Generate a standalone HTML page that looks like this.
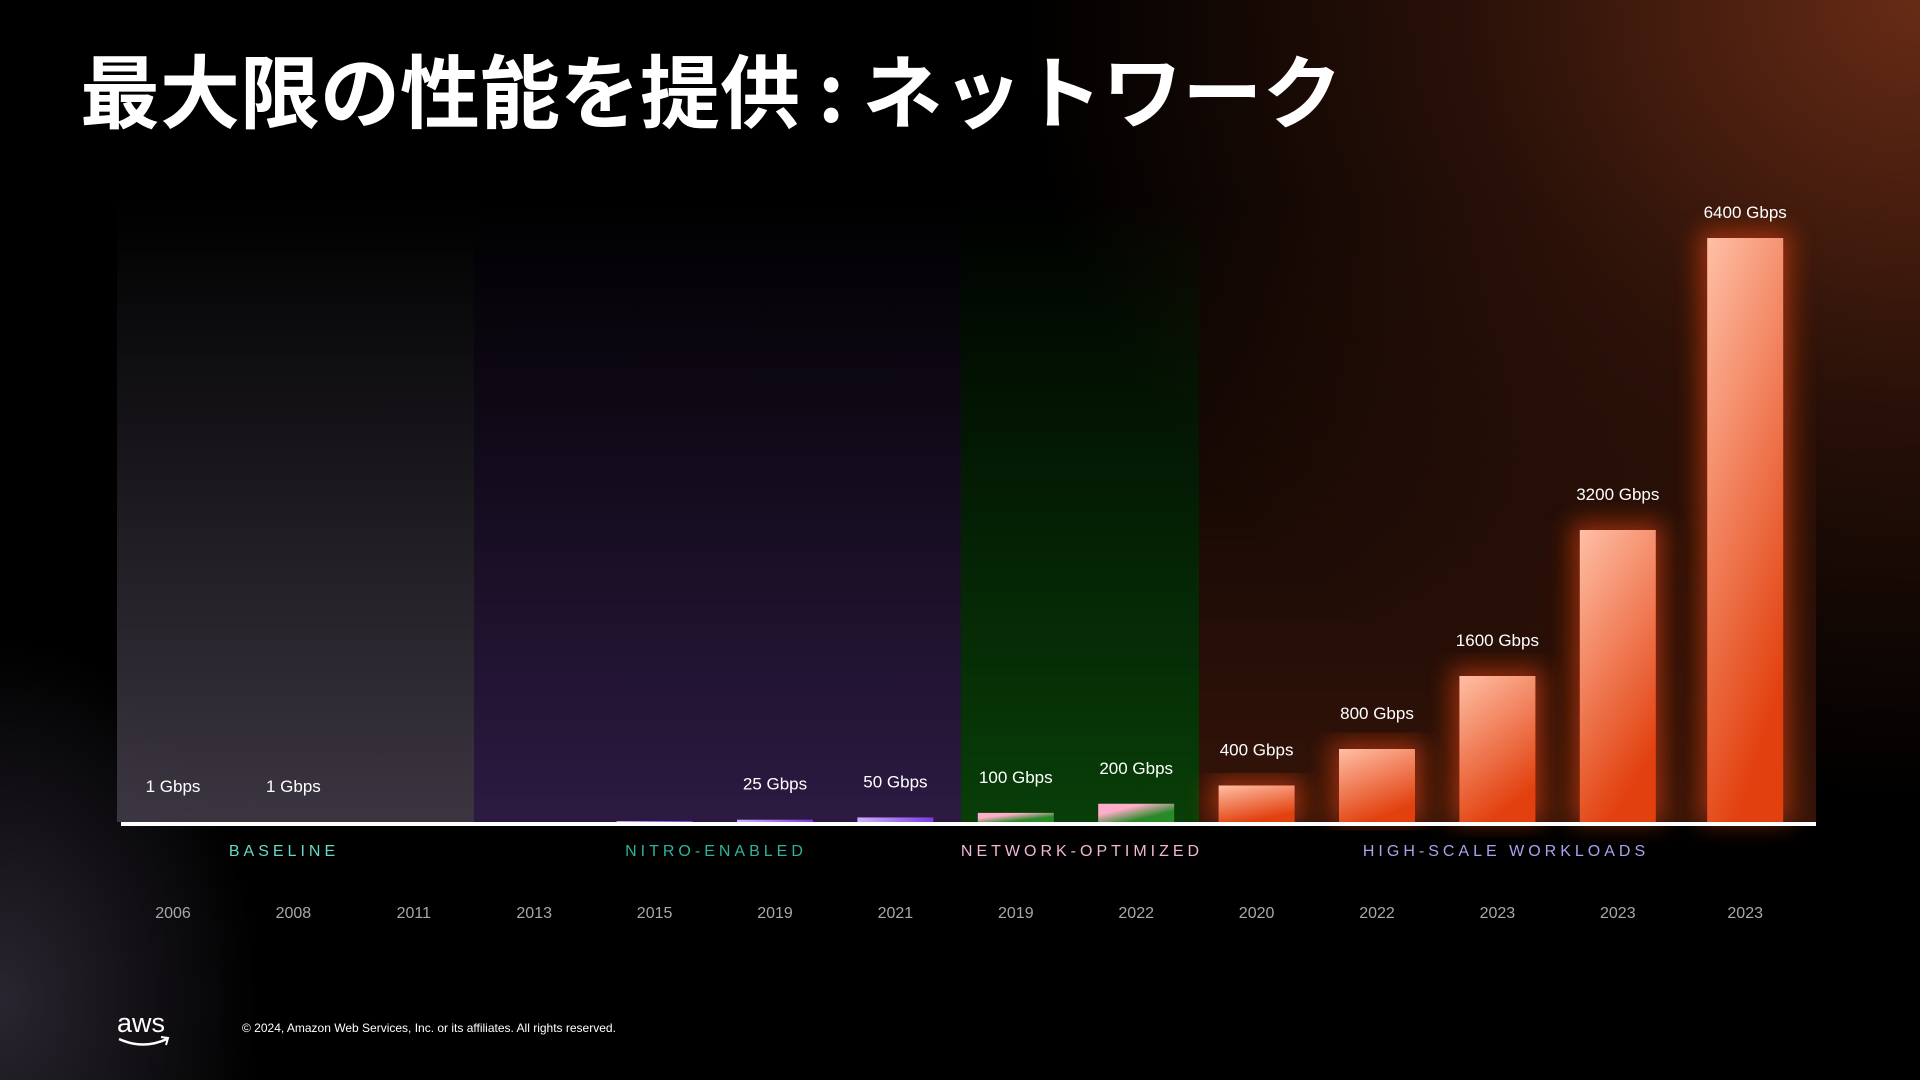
<!DOCTYPE html>
<html><head><meta charset="utf-8">
<style>
html,body{margin:0;padding:0;}
body{width:1920px;height:1080px;overflow:hidden;background:#000;position:relative;font-family:"Liberation Sans","Noto Sans CJK JP",sans-serif;}
.bg{position:absolute;inset:0;background:
radial-gradient(ellipse 900px 800px at 1920px 0px, rgba(115,48,24,0.9), rgba(75,30,14,0.55) 50%, rgba(0,0,0,0) 100%),
radial-gradient(ellipse 260px 360px at 0px 1000px, rgba(70,62,80,0.6), rgba(0,0,0,0) 100%);}
.title{position:absolute;left:80px;top:30px;font-size:80px;font-weight:bold;color:#fff;white-space:nowrap;letter-spacing:0px;font-family:"Noto Sans CJK JP","Liberation Sans",sans-serif;}
.panel{position:absolute;top:200px;height:622px;}
.cat{position:absolute;top:843px;font-size:16px;letter-spacing:4px;white-space:nowrap;transform:translateX(-50%);}
.copy{position:absolute;left:242px;top:1021px;font-size:12px;color:#fff;}
</style></head>
<body>
<div class="bg"></div>
<div class="title">最大限の性能を提供 : ネットワーク</div>
<div class="panel" style="left:117px;width:357px;background:linear-gradient(to bottom,rgba(0,0,0,0),rgba(62,56,68,0.95));"></div>
<div class="panel" style="left:474px;width:487px;background:linear-gradient(to bottom,rgba(0,0,0,0),rgba(44,26,66,1));"></div>
<div class="panel" style="left:961px;width:238px;background:linear-gradient(to bottom,rgba(0,0,0,0),rgba(8,62,8,1));"></div>
<div class="panel" style="left:1199px;width:617px;background:linear-gradient(to bottom,rgba(0,0,0,0),rgba(58,22,10,0.9));"></div>
<svg id="chart" width="1920" height="1080" style="position:absolute;left:0;top:0">
<defs>
<linearGradient id="gOr" x1="0" y1="0" x2="0.4" y2="1"><stop offset="0" stop-color="#ffbfa6"/><stop offset="1" stop-color="#e2400e"/></linearGradient>
<linearGradient id="gGr" x1="0" y1="0" x2="1" y2="1"><stop offset="0.3" stop-color="#ffadc8"/><stop offset="0.7" stop-color="#2a8a2a"/></linearGradient>
<linearGradient id="gPu" x1="0" y1="0" x2="1" y2="0"><stop offset="0" stop-color="#d0b0ff"/><stop offset="1" stop-color="#7a3ae0"/></linearGradient>
<filter id="glow" x="-50%" y="-10%" width="200%" height="120%"><feGaussianBlur stdDeviation="12"/></filter>
</defs>
<g id="bars"></g>
<rect x="121" y="822" width="1695" height="4" fill="#fff"/>
</svg>
<div class="cat" style="left:284px;color:#66d8c6;">BASELINE</div>
<div class="cat" style="left:716px;color:#2fb39c;">NITRO-ENABLED</div>
<div class="cat" style="left:1082px;color:#f2b6d6;">NETWORK-OPTIMIZED</div>
<div class="cat" style="left:1506px;color:#a9a2ec;">HIGH-SCALE WORKLOADS</div>
<svg width="60" height="40" style="position:absolute;left:115px;top:1010px">
<text x="2" y="22" fill="#fff" font-size="27" font-family="Liberation Sans,sans-serif">aws</text>
<path d="M4 29 Q28 40 52 29" stroke="#fff" stroke-width="2.5" fill="none"/>
<path d="M46 27 L53 28 L51 35" stroke="#fff" stroke-width="2" fill="none"/>
</svg>
<div class="copy">© 2024, Amazon Web Services, Inc. or its affiliates. All rights reserved.</div>
<script>
const years = ["2006","2008","2011","2013","2015","2019","2021","2019","2022","2020","2022","2023","2023","2023"];
const values = [1,1,0,0,10,25,50,100,200,400,800,1600,3200,6400];
const labels = ["1 Gbps","1 Gbps","","","","25 Gbps","50 Gbps","100 Gbps","200 Gbps","400 Gbps","800 Gbps","1600 Gbps","3200 Gbps","6400 Gbps"];
const groups = ["p","p","p","p","u","u","u","g","g","o","o","o","o","o"];
const NS="http://www.w3.org/2000/svg";
const baseY=822, maxV=6400, maxH=584, barW=76;
function xCenter(i){return 173+i*120.4+(i===13?7:0);}
function yScale(v){return baseY-v/maxV*maxH;}
const g=document.getElementById('bars');
const svg=document.getElementById('chart');
for(let i=0;i<years.length;i++){
  const cx=xCenter(i), v=values[i], top=yScale(v), h=baseY-top;
  if(v>1){
    const fill=groups[i]==="o"?"url(#gOr)":groups[i]==="g"?"url(#gGr)":"url(#gPu)";
    if(groups[i]==="o"){
      const gl=document.createElementNS(NS,'rect');
      
      
      gl.setAttribute('x',cx-barW/2-8);gl.setAttribute('y',top-8);gl.setAttribute('width',barW+16);gl.setAttribute('height',h+8);
      gl.setAttribute('fill','#d8400f');gl.setAttribute('opacity','0.6');gl.setAttribute('filter','url(#glow)');
      g.appendChild(gl);
    }
    const r=document.createElementNS(NS,'rect');
    
    
    r.setAttribute('x',cx-barW/2);r.setAttribute('y',top);r.setAttribute('width',barW);r.setAttribute('height',Math.max(h,1));
    r.setAttribute('fill',fill);
    g.appendChild(r);
  }
  if(labels[i]){
    const t=document.createElementNS(NS,'text');
    
    
    t.setAttribute('x',cx);t.setAttribute('y',Math.min(top-(v>=6400?20:30),793));
    t.setAttribute('text-anchor','middle');t.setAttribute('fill','#fff');t.setAttribute('font-size','17');
    t.setAttribute('font-family','Liberation Sans,sans-serif');
    t.textContent=labels[i];
    svg.appendChild(t);
  }
  const y=document.createElementNS(NS,'text');
  
  
  y.setAttribute('x',cx);y.setAttribute('y',918);
  y.setAttribute('text-anchor','middle');y.setAttribute('fill','#a8a8a8');y.setAttribute('font-size','16');
  y.setAttribute('font-family','Liberation Sans,sans-serif');
  y.textContent=years[i];
  svg.appendChild(y);
}
</script>
</body></html>
